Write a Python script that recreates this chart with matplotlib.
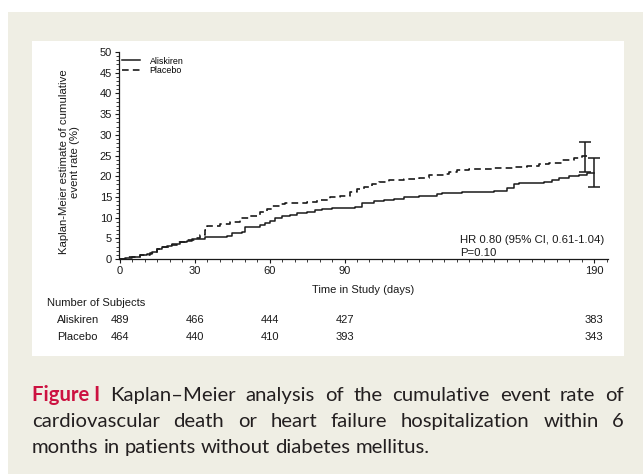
import matplotlib
matplotlib.use("Agg")
import matplotlib.pyplot as plt
from matplotlib.patches import Rectangle
from matplotlib.ticker import FixedLocator, MultipleLocator
import matplotlib.transforms as mtransforms

plt.rcParams['font.family'] = ['Liberation Sans', 'DejaVu Sans']

# Kaplan-Meier steps (days, cumulative event rate %)
placebo_days = [0, 3, 8, 12, 15, 17, 20, 23, 27, 30, 32, 34, 35, 40, 44, 48, 52, 56, 59, 61,
                64, 66, 75, 79, 84, 88, 92, 95, 98, 101, 104, 108, 114, 120, 124, 130, 132,
                135, 140, 150, 158, 163, 168, 172, 177, 182, 185, 187.5]
placebo_rate = [0, 0.5, 1.0, 1.5, 2.5, 3.0, 3.3, 4.0, 4.5, 5.0, 5.8, 7.0, 8.0, 8.5, 9.0, 9.8,
                10.5, 11.3, 12.0, 12.8, 13.3, 13.6, 13.8, 14.3, 15.0, 15.3, 16.3, 17.0, 17.5,
                18.2, 18.7, 19.0, 19.3, 19.6, 20.3, 20.5, 21.0, 21.6, 21.8, 22.0, 22.2, 22.5,
                23.0, 23.3, 23.8, 24.3, 24.8, 24.8]

aliskiren_days = [0, 2, 5, 8, 11, 13, 15, 17, 19, 21, 24, 27, 29, 34, 43, 45, 49, 50, 56, 58,
                  60, 62, 65, 68, 71, 75, 78, 81, 85, 94, 97, 102, 106, 110, 114, 120, 127,
                  129, 137, 150, 155, 158, 160, 170, 173, 176, 180, 184, 187, 190]
aliskiren_rate = [0, 0.3, 0.6, 0.9, 1.2, 1.8, 2.4, 2.8, 3.2, 3.6, 4.0, 4.4, 4.8, 5.3, 5.5, 6.4,
                  6.6, 7.8, 8.1, 8.6, 9.2, 9.9, 10.3, 10.7, 11.0, 11.3, 11.8, 12.1, 12.3, 12.6,
                  13.5, 13.9, 14.3, 14.6, 15.0, 15.3, 15.6, 16.0, 16.2, 16.5, 17.2, 18.0, 18.4,
                  18.6, 19.0, 19.6, 20.0, 20.4, 20.8, 20.8]

# 95% CI at end of follow-up
ci_days = [186.5, 189.8]
ci_mid = [24.8, 20.8]
ci_low = [21.0, 17.3]
ci_high = [28.3, 24.4]

# number at risk
risk_days = [0, 30, 60, 90, 190]
risk_aliskiren = [489, 466, 444, 427, 383]
risk_placebo = [464, 440, 410, 393, 343]

W, H = 643, 474
fig = plt.figure(figsize=(W / 100, H / 100), dpi=100)
fig.patch.set_facecolor('white')

# page panels
fig.add_artist(Rectangle((8 / W, 0), (W - 8) / W, (H - 12) / H, transform=fig.transFigure,
                         facecolor='#efeee4', edgecolor='none', zorder=-10))
fig.add_artist(Rectangle((32 / W, 1 - 356 / H), 592 / W, 315 / H, transform=fig.transFigure,
                         facecolor='white', edgecolor='none', zorder=-9))

ink = '#1a1a1a'
fs = 8
ax = fig.add_axes([119 / W, 1 - 259 / H, 489 / W, 207 / H])
ax.patch.set_visible(False)

ax.plot(aliskiren_days, aliskiren_rate, drawstyle='steps-post', color=ink, lw=1.1,
        label='Aliskiren')
ax.plot(placebo_days, placebo_rate, drawstyle='steps-post', color=ink, lw=1.2,
        dashes=(4, 2.5), label='Placebo')
ax.errorbar(ci_days, ci_mid,
            yerr=[[m - l for m, l in zip(ci_mid, ci_low)], [h - m for m, h in zip(ci_mid, ci_high)]],
            fmt='none', ecolor=ink, elinewidth=1.1, capsize=4.3, capthick=1.1)

ax.set_xlim(-0.4, 195.6)
ax.set_ylim(0, 50)
for s in ['top', 'right']:
    ax.spines[s].set_visible(False)
for s in ['left', 'bottom']:
    ax.spines[s].set_color(ink)
    ax.spines[s].set_linewidth(0.9)

ax.set_xticks(risk_days)
ax.xaxis.set_minor_locator(FixedLocator([d for d in range(5, 196, 5) if d not in risk_days]))
ax.yaxis.set_major_locator(MultipleLocator(5))
ax.yaxis.set_minor_locator(MultipleLocator(1))
ax.tick_params(which='major', length=3, width=0.8, color=ink, labelsize=fs, labelcolor=ink, pad=2)
ax.tick_params(which='minor', length=2, width=0.6, color=ink)

ax.set_xlabel('Time in Study (days)', fontsize=fs, color=ink)
ax.xaxis.set_label_coords(0.5, -0.125)
ax.set_ylabel('Kaplan-Meier estimate of cumulative\nevent rate (%)', fontsize=8.2, color=ink,
              linespacing=1.1)
ax.yaxis.set_label_coords(-0.08, 0.47)

ax.legend(loc='upper left', bbox_to_anchor=(0.006, 0.978), frameon=False, fontsize=6.4,
          handlelength=2.0, handletextpad=1.1, labelspacing=0.1, borderpad=0, borderaxespad=0)

ax.text(0.992, 0.06, 'HR 0.80 (95% CI, 0.61-1.04)\nP=0.10', transform=ax.transAxes,
        ha='right', va='center', multialignment='left', fontsize=8.2, color=ink, linespacing=1.3)

# number at risk table
blend = mtransforms.blended_transform_factory(ax.transData, fig.transFigure)
fig.text(47 / W, 1 - 303 / H, 'Number of Subjects', fontsize=fs, color=ink, va='center')
for name, counts, yy in [('Aliskiren', risk_aliskiren, 320), ('Placebo', risk_placebo, 337)]:
    fig.text(57 / W, 1 - yy / H, name, fontsize=fs, color=ink, va='center')
    for d, n in zip(risk_days, counts):
        ax.text(d, 1 - yy / H, str(n), transform=blend, ha='center', va='center',
                fontsize=fs, color=ink)

# caption, justified like the journal page
renderer = fig.canvas.get_renderer()
cap = dict(family=['Lato', 'DejaVu Sans'], fontsize=14.6, color='#231f20', va='baseline')


def place_line(items, base, x0, x1=None):
    texts = []
    for word, extra in items:
        kw = dict(cap)
        kw.update(extra)
        texts.append(fig.text(0, 1 - base / H, word, **kw))
    widths = [t.get_window_extent(renderer).width for t in texts]
    space = texts[0].get_fontsize() * 100 / 72 * 0.25
    if x1 is not None and len(texts) > 1:
        space = (x1 - x0 - sum(widths)) / (len(texts) - 1)
    x = x0
    for t, w in zip(texts, widths):
        t.set_x(x / W)
        x += w + space


red = dict(color='#cc1140', fontweight='bold')
line1 = [('Figure I', red)] + [(w, {}) for w in 'Kaplan–Meier analysis of the cumulative event rate of'.split()]
line2 = [(w, {}) for w in 'cardiovascular death or heart failure hospitalization within 6'.split()]
line3 = [(w, {}) for w in 'months in patients without diabetes mellitus.'.split()]
place_line(line1, 401, 32, 624)
place_line(line2, 427, 32, 624)
place_line(line3, 453, 32)

fig.savefig('out.png', dpi=100)
